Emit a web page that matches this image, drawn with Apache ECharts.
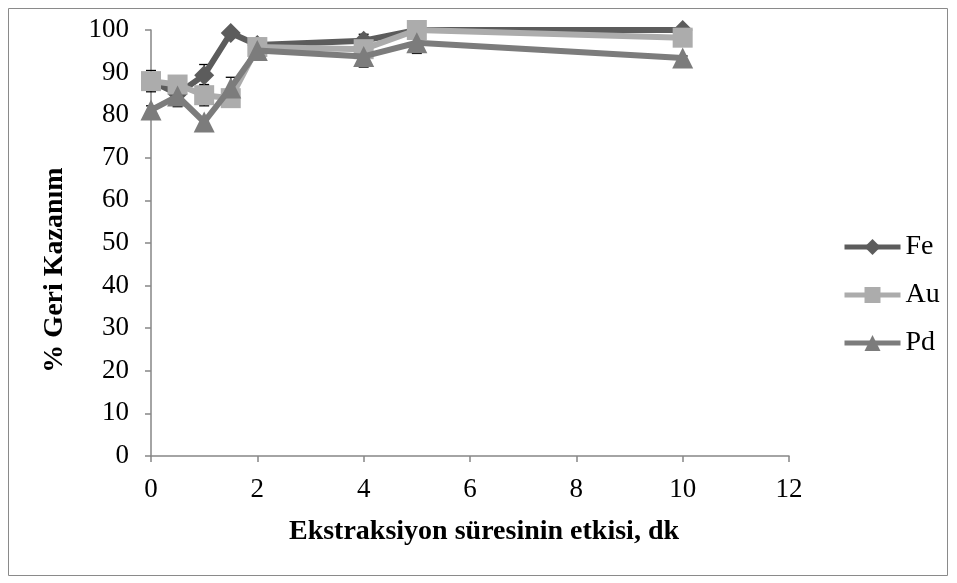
<!DOCTYPE html>
<html><head><meta charset="utf-8">
<script src="https://cdn.jsdelivr.net/npm/echarts@6/dist/echarts.min.js"></script>
<style>html,body{margin:0;padding:0;background:#fff}#c{width:957px;height:583px}</style>
</head><body><div id="c"></div>
<script>
const xValues = [0, 0.5, 1, 1.5, 2, 4, 5, 10];
const feValues = [88, 85, 89.4, 99.3, 96.5, 97.5, 100, 100];
const auValues = [88, 87.2, 84.7, 84, 96, 95.5, 100, 98.2];
const pdValues = [81.2, 84.5, 78.4, 86.4, 95.2, 93.8, 97, 93.4];
const feErr = [1, 1, 2.5, 0.5, 1.5, 1.5, 0.5, 0.3];
const auErr = [2.5, 2, 2.5, 1, 1, 1.5, 0.5, 0.5];
const pdErr = [1, 2.5, 1, 2.5, 1, 2.5, 2.5, 0.5];
const xTicks = [0, 2, 4, 6, 8, 10, 12];

const font = '"Liberation Serif", "Times New Roman", serif';
const chart = echarts.init(document.getElementById('c'));
function pairs(v){ return xValues.map((x,i)=>[x,v[i]]); }
function errSeries(v, e){
  return {
    type:'custom', silent:true, z:1,
    data: xValues.map((x,i)=>[x, v[i]-e[i], v[i]+e[i]]),
    renderItem(params, api){
      const lo = api.coord([api.value(0), api.value(1)]);
      const hi = api.coord([api.value(0), api.value(2)]);
      const w = 5;
      const st = {stroke:'#000', lineWidth:1.3};
      return {type:'group', children:[
        {type:'line', shape:{x1:lo[0],y1:lo[1],x2:hi[0],y2:hi[1]}, style:st},
        {type:'line', shape:{x1:lo[0]-w,y1:lo[1],x2:lo[0]+w,y2:lo[1]}, style:st},
        {type:'line', shape:{x1:hi[0]-w,y1:hi[1],x2:hi[0]+w,y2:hi[1]}, style:st}
      ]};
    }
  };
}
chart.setOption({
  animation:false,
  backgroundColor:'#fff',
  graphic:[{type:'rect', shape:{x:8.5,y:8.5,width:939,height:567}, style:{fill:'none', stroke:'#8a8a8a', lineWidth:1}}],
  grid:{left:151, top:30, width:638, height:426},
  xAxis:{type:'value', min:0, max:12, interval:2,
    axisLine:{lineStyle:{color:'#868686', width:1.5}},
    axisTick:{show:true, length:6, lineStyle:{color:'#868686', width:1.5}},
    splitLine:{show:false},
    axisLabel:{color:'#000', fontFamily:font, fontSize:27, margin:20},
    name:'Ekstraksiyon süresinin etkisi, dk', nameLocation:'middle', nameGap:62,
    nameTextStyle:{color:'#000', fontFamily:font, fontSize:28, fontWeight:'bold', padding:[0,0,0,28]}
  },
  yAxis:{type:'value', min:0, max:100, interval:10,
    axisLine:{show:true, lineStyle:{color:'#868686', width:1.5}},
    axisTick:{show:true, length:6, lineStyle:{color:'#868686', width:1.5}},
    splitLine:{show:false},
    axisLabel:{color:'#000', fontFamily:font, fontSize:27, margin:22},
    name:'% Geri Kazanım', nameLocation:'middle', nameGap:82, nameRotate:90,
    nameTextStyle:{color:'#000', fontFamily:font, fontSize:28, fontWeight:'bold', padding:[0,54,0,0]}
  },
  legend:{orient:'vertical', left:837, top:228, itemGap:20, itemWidth:56, itemHeight:20,
    textStyle:{color:'#000', fontFamily:font, fontSize:28},
    lineStyle:{width:5},
    data:['Fe','Au','Pd']},
  series:[
    errSeries(feValues, feErr), errSeries(auValues, auErr), errSeries(pdValues, pdErr),
    {name:'Fe', type:'line', data:pairs(feValues), symbol:'diamond', symbolSize:20, z:3,
      lineStyle:{color:'#5c5c5c', width:6}, itemStyle:{color:'#5c5c5c'}},
    {name:'Au', type:'line', data:pairs(auValues), symbol:'rect', symbolSize:20, z:4,
      lineStyle:{color:'#acacac', width:6}, itemStyle:{color:'#acacac'}},
    {name:'Pd', type:'line', data:pairs(pdValues), symbol:'triangle', symbolSize:21, z:5,
      lineStyle:{color:'#7c7c7c', width:6}, itemStyle:{color:'#7c7c7c'}}
  ]
});
</script></body></html>
